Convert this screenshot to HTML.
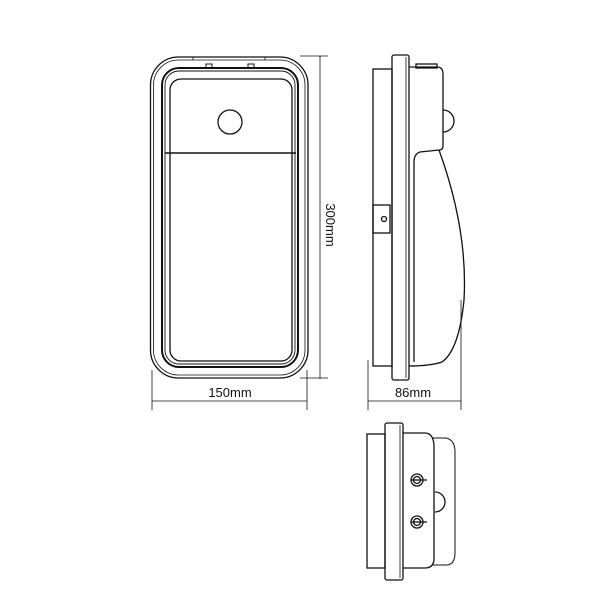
<!DOCTYPE html>
<html><head><meta charset="utf-8"><style>
html,body{margin:0;padding:0;background:#fff;}
svg{display:block}
text{font-family:"Liberation Sans",sans-serif;fill:#111}
</style></head><body>
<svg width="600" height="600" viewBox="0 0 600 600" xmlns="http://www.w3.org/2000/svg">
<g fill="none" stroke="#111" stroke-width="1.3">
<!-- front view -->
<rect x="150.5" y="57" width="157.5" height="321" rx="28"/>
<rect x="153.5" y="60" width="151.5" height="315" rx="25" stroke-width="0.8"/>
<rect x="162" y="68" width="136" height="299" rx="17" stroke-width="2"/>
<rect x="165" y="71" width="130" height="293" rx="14" stroke-width="0.9"/>
<rect x="170" y="79" width="122" height="282" rx="11"/>
<line x1="165" y1="153" x2="296" y2="153" stroke-width="1.6"/>
<circle cx="230" cy="122" r="12"/>
<rect x="206" y="64" width="6" height="4" stroke-width="1"/>
<rect x="248" y="64" width="6" height="4" stroke-width="1"/>
<line x1="193" y1="57" x2="193" y2="60" stroke-width="0.8"/>
<line x1="265" y1="57" x2="265" y2="60" stroke-width="0.8"/>
<!-- dims front -->
<g stroke-width="0.8">
<line x1="152" y1="401" x2="307" y2="401"/>
<line x1="152" y1="370" x2="152" y2="410"/>
<line x1="307" y1="370" x2="307" y2="410"/>
<line x1="320" y1="56" x2="320" y2="379"/>
<line x1="300" y1="56" x2="328" y2="56"/>
<line x1="300" y1="378" x2="328" y2="378"/>
</g>
<!-- side view -->
<rect x="373" y="69" width="19" height="297"/>
<rect x="392" y="55" width="17" height="325" rx="2"/>
<line x1="406" y1="57" x2="406" y2="378" stroke-width="0.8"/>
<path d="M409 67 L437 67 Q443 67 443 74 L443 146 Q443 150 439 150 L420 152 Q414 154 414 162 L414 362"/>
<rect x="416" y="64" width="21" height="4"/>
<path d="M443 110 A11 11 0 0 1 443 132"/>
<path d="M439 150 Q468 230 464 300 Q459 350 442 362 Q430 366 409 366"/>
<rect x="373" y="205" width="17" height="28"/>
<circle cx="384" cy="219" r="2.5"/>
<g stroke-width="0.8">
<line x1="368" y1="401" x2="461" y2="401"/>
<line x1="368" y1="360" x2="368" y2="410"/>
<line x1="461" y1="300" x2="461" y2="410"/>
</g>
<!-- bottom view -->
<rect x="367" y="434" width="18" height="134"/>
<rect x="385" y="423" width="18" height="157" rx="2"/>
<line x1="400" y1="425" x2="400" y2="578" stroke-width="0.8"/>
<path d="M403 433 L425 433 Q433 433 434 445 L434 560 Q433 568 425 568 L403 568"/>
<path d="M432 438 L446 438 Q455 440 455 452 L455 553 Q455 565 446 565 L432 565" stroke-width="1"/>
<path d="M435 492 A10 10 0 0 1 435 512"/>
<circle cx="417" cy="480" r="6"/><circle cx="417" cy="480" r="3.5"/>
<line x1="411" y1="480" x2="427" y2="480"/>
<circle cx="417" cy="522" r="6"/><circle cx="417" cy="522" r="3.5"/>
<line x1="411" y1="522" x2="427" y2="522"/>
</g>
<text x="230" y="397" font-size="13" text-anchor="middle">150mm</text>
<text x="413" y="397" font-size="13" text-anchor="middle">86mm</text>
<text x="0" y="0" font-size="13" text-anchor="middle" transform="translate(326,225) rotate(90)">300mm</text>
</svg>
</body></html>
